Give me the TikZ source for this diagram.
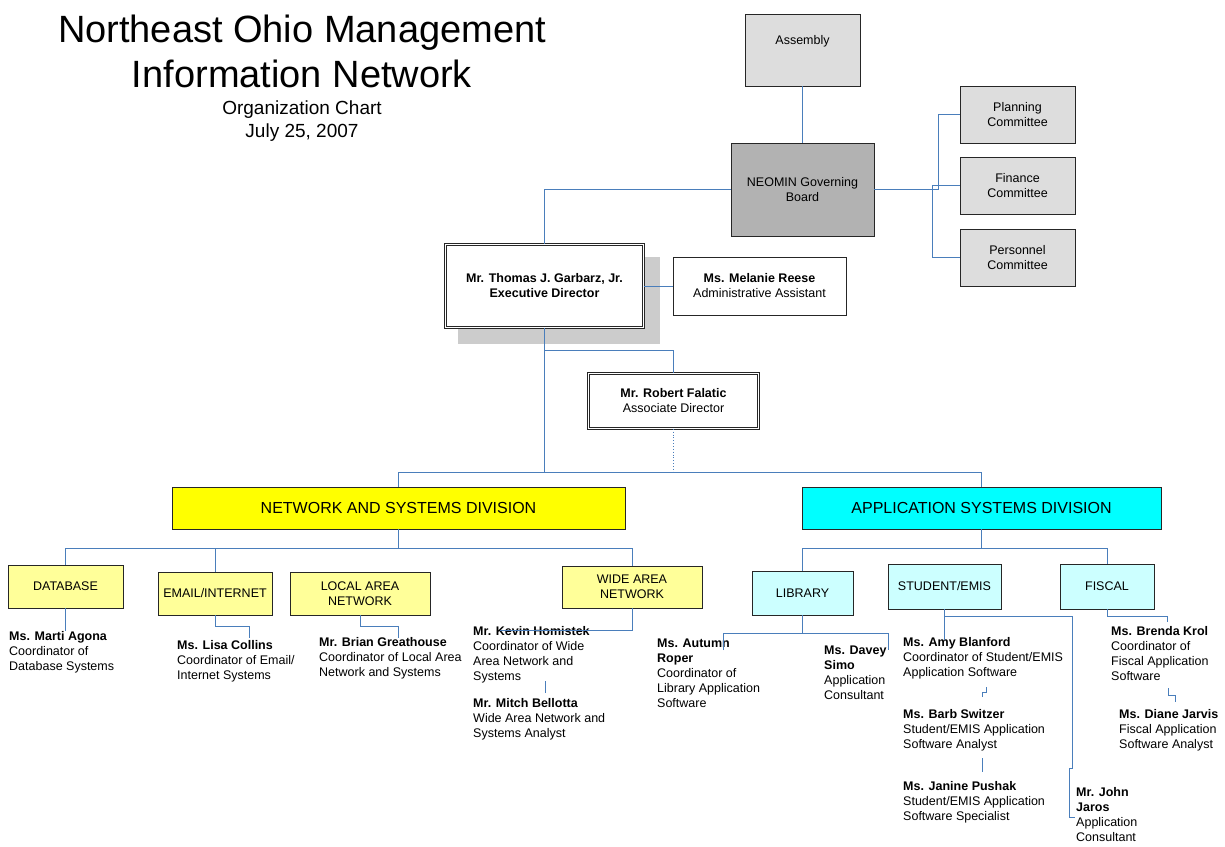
\documentclass[tikz,border=0pt]{standalone}
\usepackage{fontspec}
\setmainfont{Liberation Sans}
\definecolor{lineblue}{HTML}{4A7EBB}
\definecolor{boxgray}{HTML}{DDDDDD}
\definecolor{boardgray}{HTML}{B2B2B2}
\definecolor{shadowgray}{HTML}{CCCCCC}
\definecolor{ylw}{HTML}{FFFF00}
\definecolor{cyn}{HTML}{00FFFF}
\definecolor{lylw}{HTML}{FFFF99}
\definecolor{lcyn}{HTML}{CCFFFF}
\tikzset{
  box/.style={draw=black!85, line width=0.9pt, inner sep=0pt, align=center,
    font=\fontsize{12.5}{15}\selectfont},
  dbox/.style={box, double, double distance=1.4pt, line width=0.7pt, fill=white},
  conn/.style={draw=lineblue, line width=0.85pt},
  ptxt/.style={inner sep=0pt, align=left, anchor=north west,
    font=\fontsize{12.5}{15}\selectfont},
}
\begin{document}
\begin{tikzpicture}[x=1pt,y=-1pt]
\useasboundingbox[fill=white] (0,0) rectangle (1225,846);

% title
\node[anchor=base, font=\fontsize{38}{45}\selectfont] (title1) at (302,42) {Northeast Ohio Management};
\node[anchor=base, font=\fontsize{38}{45}\selectfont] (title2) at (302,87) {Information Network};
\node[anchor=base, font=\fontsize{19}{23}\selectfont] (sub1) at (302,114) {Organization Chart};
\node[anchor=base, font=\fontsize{19}{23}\selectfont] (sub2) at (302,137) {July 25, 2007};

% top boxes
\node[box, fill=boxgray, minimum width=115pt, minimum height=72pt] (assembly) at (802.5,50) {};
\node[font=\fontsize{12.5}{15}\selectfont, inner sep=0pt] (assemblyT) at (802.5,41) {Assembly};
\node[box, fill=boardgray, minimum width=143pt, minimum height=93pt] (board) at (802.5,189.5) {NEOMIN Governing\\Board};
\node[box, fill=boxgray, minimum width=115pt, minimum height=57pt] (planning) at (1017.5,114.5) {Planning\\Committee};
\node[box, fill=boxgray, minimum width=115pt, minimum height=57pt] (finance) at (1017.5,185.5) {Finance\\Committee};
\node[box, fill=boxgray, minimum width=115pt, minimum height=57pt] (personnel) at (1017.5,257.5) {Personnel\\Committee};

% executive director
\fill[shadowgray] (458,257) rectangle (660,344);
\node[dbox, minimum width=198pt, minimum height=83pt] (ed) at (544.5,286) {\textbf{Mr. Thomas J. Garbarz, Jr.}\\\textbf{Executive Director}};
\node[box, fill=white, minimum width=173pt, minimum height=58pt] (melanie) at (759.5,286) {\textbf{Ms. Melanie Reese}\\Administrative Assistant};
\node[dbox, minimum width=170pt, minimum height=55pt] (falatic) at (673.5,401) {\textbf{Mr. Robert Falatic}\\Associate Director};

% divisions
\node[box, fill=ylw, minimum width=453pt, minimum height=42pt, font=\fontsize{16}{19}\selectfont] (nsd) at (398.5,508) {NETWORK AND SYSTEMS DIVISION};
\node[box, fill=cyn, minimum width=359pt, minimum height=42pt, font=\fontsize{16}{19}\selectfont] (apd) at (981.5,508) {APPLICATION SYSTEMS DIVISION};

% units
\node[box, fill=lylw, minimum width=115pt, minimum height=43pt] (db) at (65.5,586.5) {DATABASE};
\node[box, fill=lylw, minimum width=114pt, minimum height=43pt] (email) at (215,593.5) {EMAIL/INTERNET};
\node[box, fill=lylw, minimum width=140pt, minimum height=43pt] (lan) at (360,593.5) {LOCAL AREA\\NETWORK};
\node[box, fill=lylw, minimum width=140pt, minimum height=42pt] (wan) at (632,587) {WIDE AREA\\NETWORK};
\node[box, fill=lcyn, minimum width=101pt, minimum height=44pt] (lib) at (802.5,593) {LIBRARY};
\node[box, fill=lcyn, minimum width=113pt, minimum height=45pt] (stu) at (944.5,586.5) {STUDENT/EMIS};
\node[box, fill=lcyn, minimum width=94pt, minimum height=45pt] (fiscal) at (1107,586.5) {FISCAL};

% people
\node[ptxt] (marti) at (9,631) {\textbf{Ms. Marti Agona}\\Coordinator of\\Database Systems};
\node[ptxt] (lisa) at (177,640) {\textbf{Ms. Lisa Collins}\\Coordinator of Email/\\Internet Systems};
\node[ptxt] (brian) at (319,637) {\textbf{Mr. Brian Greathouse}\\Coordinator of Local Area\\Network and Systems};
\node[ptxt] (kevin) at (473,626) {\textbf{Mr. Kevin Homistek}\\Coordinator of Wide\\Area Network and\\Systems};
\node[ptxt] (mitch) at (473,698) {\textbf{Mr. Mitch Bellotta}\\Wide Area Network and\\Systems Analyst};
\node[ptxt] (autumn) at (657,639) {\textbf{Ms. Autumn}\\\textbf{Roper}\\Coordinator of\\Library Application\\Software};
\node[ptxt] (davey) at (824,646) {\textbf{Ms. Davey}\\\textbf{Simo}\\Application\\Consultant};
\node[ptxt] (amy) at (903,637) {\textbf{Ms. Amy Blanford}\\Coordinator of Student/EMIS\\Application Software};
\node[ptxt] (barb) at (903,709) {\textbf{Ms. Barb Switzer}\\Student/EMIS Application\\Software Analyst};
\node[ptxt] (janine) at (903,781) {\textbf{Ms. Janine Pushak}\\Student/EMIS Application\\Software Specialist};
\node[ptxt] (john) at (1076,787) {\textbf{Mr. John}\\\textbf{Jaros}\\Application\\Consultant};
\node[ptxt] (brenda) at (1111,626) {\textbf{Ms. Brenda Krol}\\Coordinator of\\Fiscal Application\\Software};
\node[ptxt] (diane) at (1119,709) {\textbf{Ms. Diane Jarvis}\\Fiscal Application\\Software Analyst};

% coordinates
\coordinate (jc1) at (938,189.5);
\coordinate (jc2) at (932,185.5);
\coordinate (j350) at (544.5,350);
\coordinate (bus1) at (544.5,472);
\coordinate (bus2) at (398.5,548);
\coordinate (lisaIn) at (249,638);
\coordinate (brianIn) at (398,638);
\coordinate (kevinIn) at (500,630);
\coordinate (km1) at (545,681);
\coordinate (km2) at (545,693);
\coordinate (libbus) at (802.5,633);
\coordinate (autumnIn) at (723,650);
\coordinate (daveyIn) at (888,650);
\coordinate (amyIn) at (944.5,640);
\coordinate (stubus) at (944.5,616);
\coordinate (johnA) at (1072,768);
\coordinate (johnB) at (1069,768);
\coordinate (johnC) at (1069,817);
\coordinate (johnIn) at (1075,817);
\coordinate (ab1) at (986,687);
\coordinate (ab2) at (982,697);
\coordinate (bj1) at (982,758);
\coordinate (bj2) at (982,772);
\coordinate (brendaIn) at (1167,622);
\coordinate (bd1) at (1168,688);
\coordinate (bd2) at (1175,702);

% connectors
\draw[conn] (assembly.south) -- (board.north);
\draw[conn] (board.east) -- (jc1) |- (planning.west);
\draw[conn] (finance.west) -- (jc2) |- (personnel.west);
\draw[conn] (board.west) -| (ed.north);
\draw[conn] (ed.east) -- (melanie.west);
\draw[conn] (ed.south) -- (bus1);
\draw[conn] (j350) -| (falatic.north);
\draw[conn, dotted, line width=0.7pt] (falatic.south) -- (falatic.south |- bus1);
\draw[conn] (nsd.north) -- (nsd.north |- bus1) -- (apd.north |- bus1) -- (apd.north);
\draw[conn] (nsd.south) -- (bus2);
\draw[conn] (db.north) -- (db.north |- bus2) -- (wan.north |- bus2) -- (wan.north);
\draw[conn] (email.north) -- (email.north |- bus2);
\draw[conn] (apd.south) -- (apd.south |- bus2);
\draw[conn] (lib.north) -- (lib.north |- bus2) -- (fiscal.north |- bus2) -- (fiscal.north);
\draw[conn] (db.south) -- (db.south |- marti.north);
\draw[conn] (email.south) -- ++(0,11) -| (lisaIn);
\draw[conn] (lan.south) -- ++(0,11) -| (brianIn);
\draw[conn] (wan.south) |- (kevinIn);
\draw[conn] (km1) -- (km2);
\draw[conn] (lib.south) -- (libbus);
\draw[conn] (autumnIn) |- (daveyIn |- libbus) -- (daveyIn);
\draw[conn] (stu.south) -- (amyIn);
\draw[conn] (stubus) -| (johnA) -- (johnB) -- (johnC) -- (johnIn);
\draw[conn] (ab1) -- ++(0,5) -| (ab2);
\draw[conn] (bj1) -- (bj2);
\draw[conn] (fiscal.south) -- ++(0,7) -| (brendaIn);
\draw[conn] (bd1) -- ++(0,7) -| (bd2);
\end{tikzpicture}
\end{document}
